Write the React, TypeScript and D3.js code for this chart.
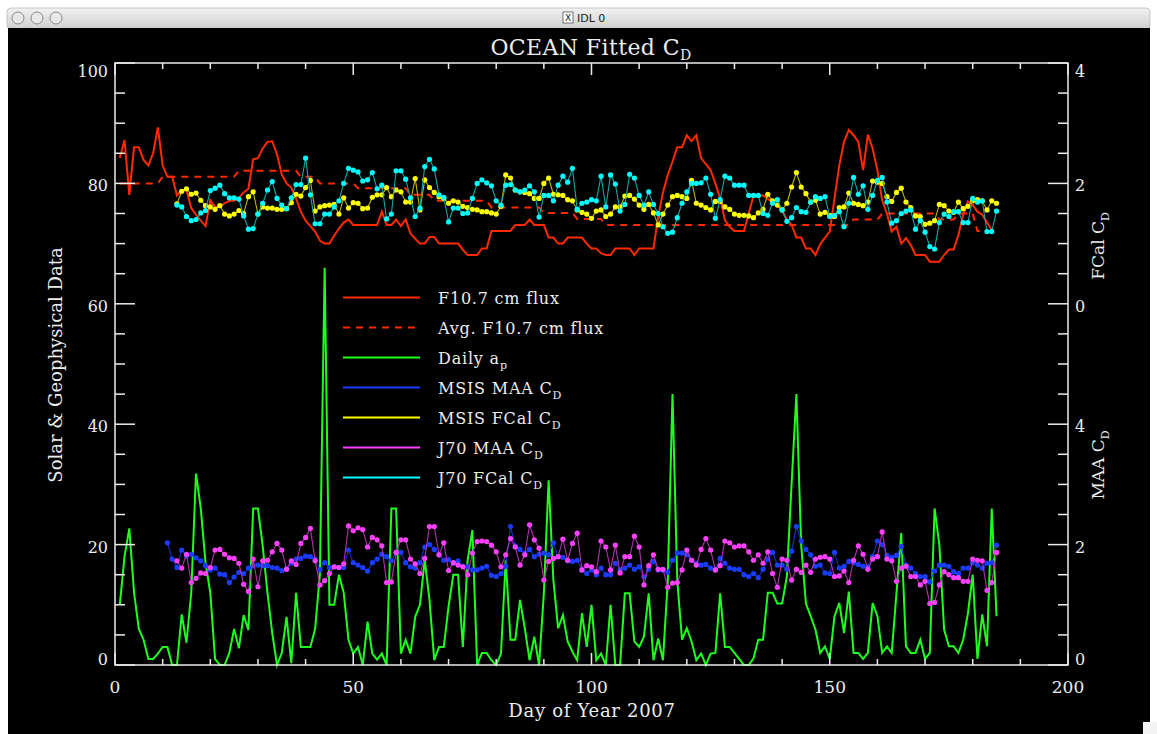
import React from 'react';
import * as d3 from 'd3';

// ---------- DATA ----------
const dayStartF107 = 1;
const f107Flux = [
  84.2,87.2,78.1,86,86,83.9,83,85,89.3,83,
  81.1,81.1,78,78.9,78.9,75.9,74.8,73.8,72.9,77.2,
  76.1,76.1,76.7,77.1,77.1,77.6,78.5,79.1,84,84.2,
  85.8,86.9,87,84.8,81.5,80,79.3,77.5,75.3,73.8,
  72.9,72,70.5,70,70,71.3,72.5,73.5,74,73.1,
  73.1,73.1,73.1,73.1,73.1,75.3,73.1,73.1,74,72.9,
  74,71.7,70.8,70,70,71.1,71.1,70,70,70,
  70,70,69,68.1,68.1,68.1,69.2,69.2,72.1,72.1,
  72.1,72.1,72.1,73.1,73.1,73.1,74,73.1,73.1,73.1,
  71,71,70,70,71,71,71,71,70,69.2,
  69.2,68.4,68.1,68.1,69.2,69.2,69.2,69.2,68.1,69.2,
  69.2,69.2,69.2,74.5,78.5,81.4,83.6,86,86,88,
  87,88,84.2,83.2,82.2,80,77.5,73.9,72.8,72.1,
  72.1,72.1,75,78,78,78,77.5,76.7,76.4,75.5,
  74,73.1,71,71,69.2,69.2,68.1,69.9,71,72,
  77.5,83,86.9,88.9,88,86.9,82.2,88.1,85.8,82.2,
  77.2,75,72,72.8,70,70.9,69.8,68.1,68.1,68.1,
  67,67,67,68.1,69,69,71.4,74.8,77,76.4,
  75.3,74.8,73.5,72.3
];

const dayStartAvg = 1;
const avgF107Flux = [
  80,80,80,80,80,80,80,80,80,
  81.1,81.1,81.1,81.1,81.1,81.1,81.1,81.1,81.1,81.1,81.1,81.1,81.1,81.1,81.1,81.1,
  82.1,82.1,82.1,82.1,82.1,82.1,82.1,82.1,82.1,82.1,82.1,82.1,82.1,
  81.1,81.1,81.1,81.1,
  80,80,80,80,80,80,80,80,
  79.2,79.2,79.2,79.2,79.2,79.2,79.2,79.2,79.2,79.2,79.2,
  78.1,78.1,78.1,78.1,78.1,
  77.1,77.1,77.1,77.1,77.1,77.1,77.1,77.1,77.1,77.1,77.1,77.1,
  76,76,76,76,76,76,76,76,76,76,76,
  75.1,75.1,75.1,75.1,75.1,75.1,75.1,
  74.1,74.1,74.1,74.1,74.1,74.1,
  73.1,73.1,73.1,73.1,73.1,73.1,73.1,73.1,73.1,73.1,
  73.1,73.1,73.1,73.1,73.1,73.1,73.1,73.1,73.1,73.1,
  73.1,73.1,73.1,73.1,73.1,73.1,73.1,73.1,73.1,73.1,
  73.1,73.1,73.1,73.1,73.1,73.1,73.1,73.1,73.1,73.1,
  73.1,73.1,73.1,73.1,73.1,73.1,73.1,73.1,73.1,73.1,73.1,73.1,
  74,74,74,74,74,74,
  75,75,75,75,75,75,75,75,75,75,75,75,
  74,74,74,74,
  75,75,75,75,
  72.1,72.1,72.1,72.1,72.1
];

const dayStartAp = 1;
const dailyAp = [
  10,18,22.7,12,6,4.2,1,1,1.9,3,
  3,0,0,8.4,3.7,12,31.8,26,17,12,
  1,0,0,2,6,2.8,8.3,5.8,26,26,
  19.7,12,5.3,0,2,8,0.3,12,3,3,
  3,6,15,66,10,10,15,12,4.2,1.9,
  3,0,7.2,1.9,0.9,1.9,0,26,26,1.9,
  4.2,1.9,8,10,17.5,10.8,0.8,3,3,9.7,
  15,15,3,17.4,22.4,0,2,2,0.8,0,
  1.9,17.4,4.2,4.2,10.8,6.1,0.8,4.7,0,11.9,
  30.7,14.1,6.1,8.3,3.9,2.2,0.8,8.6,3,10,
  0.8,1.9,0,10,0,0,11.9,11.9,3.9,3,
  4.7,11.9,0.8,4.4,0.8,13.8,45,14,4.2,6.1,
  3.9,0.8,1.9,0,1.9,2,11.9,3,3,2,
  1,0,0,1.1,4.2,4.2,12,12,10.2,10.2,
  14.7,30.2,45,20,10.2,8.1,5.9,2,3.1,1,
  8.1,10.3,5.3,12.2,2,2,1,2,10.3,8.1,
  2,3.1,2,11.9,21.9,3.1,2,2,4.2,1,
  2,26,20,5.9,3.1,3.1,2,4.2,8.6,15,
  1,8.4,3.1,26,8.1
];

const dayStartMsisMaa = 11;
const msisMaaCd = [
  2.03,1.76,1.62,1.91,1.81,1.84,1.78,1.73,1.65,1.58,
  1.61,1.51,1.50,1.37,1.46,1.54,1.52,1.61,1.65,1.66,
  1.65,1.65,1.62,1.61,1.57,1.60,1.69,1.76,1.77,1.81,
  1.80,1.76,1.58,1.70,1.62,1.63,1.62,1.62,1.91,1.70,
  1.66,1.62,1.56,1.70,1.76,1.84,1.80,1.73,1.87,1.87,
  1.70,1.63,1.61,1.70,1.96,2.00,1.92,1.83,1.74,1.75,
  1.69,1.73,1.64,1.63,1.58,1.58,1.61,1.64,1.49,1.47,
  1.52,1.64,2.30,1.98,1.92,1.86,1.92,1.80,1.84,1.86,
  1.83,2.03,1.80,1.79,1.73,1.72,1.74,1.58,1.52,1.58,
  1.50,1.61,1.50,1.50,1.69,1.58,1.61,1.66,1.59,1.63,
  1.47,1.59,1.72,1.58,1.58,1.54,1.74,1.86,1.86,1.83,
  1.74,1.69,1.66,1.67,1.61,1.58,1.77,1.69,1.61,1.59,
  1.59,1.50,1.47,1.52,1.45,1.59,1.76,1.87,1.66,1.66,
  1.59,1.89,2.30,2.06,1.92,1.83,1.64,1.66,1.53,1.52,
  1.87,1.61,1.64,1.72,1.70,1.67,1.64,1.63,1.80,2.06,
  2.00,1.82,1.79,1.82,1.97,1.66,1.61,1.52,1.47,1.47,
  1.38,1.56,1.66,1.66,1.64,1.55,1.52,1.61,1.61,1.70,
  1.66,1.61,1.69,1.70,1.99
];

const dayStartMsisFcal = 13;
const msisFcalCd = [
  1.66,1.87,1.91,1.82,1.84,1.72,1.63,1.61,1.57,1.63,
  1.49,1.46,1.49,1.55,1.50,1.78,1.86,1.49,1.61,1.59,
  1.59,1.57,1.57,1.58,1.68,1.82,1.79,1.93,2.05,1.54,
  1.61,1.63,1.64,1.65,1.49,1.76,1.59,1.68,1.67,1.58,
  1.59,1.77,1.81,1.81,1.93,1.78,1.89,1.86,1.69,1.69,
  2.08,1.56,2.06,1.93,1.85,1.78,1.75,1.67,1.71,1.69,
  1.62,1.60,1.57,1.56,1.53,1.53,1.51,1.49,1.62,2.14,
  2.09,1.89,1.86,1.85,1.83,1.75,1.75,2.00,2.09,1.82,
  1.81,1.80,1.73,1.71,1.56,1.52,1.49,1.42,1.54,1.56,
  1.45,1.49,1.61,1.61,1.79,1.80,1.74,1.64,1.57,1.65,
  1.51,1.31,1.49,1.64,1.78,1.80,1.78,1.75,2.05,1.67,
  1.64,1.60,1.56,1.70,1.70,1.61,1.57,1.49,1.47,1.47,
  1.46,1.43,1.51,1.57,1.82,1.71,1.64,1.56,1.67,1.94,
  2.18,1.94,1.83,1.69,1.72,1.49,1.52,1.47,1.45,1.60,
  1.61,1.84,1.67,1.65,1.63,1.69,2.04,2.02,2.00,1.78,
  1.70,1.85,1.92,1.69,1.60,1.46,1.45,1.32,1.34,1.38,
  1.65,1.63,1.54,1.52,1.69,1.58,1.62,1.71,1.73,1.71,
  1.56,1.71,1.67
];

const dayStartJ70Maa = 13;
const j70MaaCd = [
  1.73,1.61,1.84,1.37,1.44,1.53,1.52,1.62,1.91,1.92,
  1.84,1.78,1.77,1.69,1.34,1.22,1.76,1.30,1.73,1.74,
  1.88,2.02,1.91,1.59,1.73,1.67,2.02,2.12,2.27,1.73,
  1.33,1.40,1.52,1.63,1.62,1.68,2.31,2.23,2.28,2.25,
  1.96,2.12,2.08,1.98,1.37,1.38,1.87,2.08,2.08,1.76,
  1.68,1.52,1.77,2.30,2.30,1.83,2.03,1.57,1.70,1.66,
  1.63,1.50,1.86,2.05,2.06,2.05,1.99,1.88,1.63,1.83,
  2.10,1.96,1.66,1.83,2.33,2.08,1.94,1.41,1.72,1.77,
  1.80,2.09,1.74,2.02,2.19,1.58,1.65,1.63,1.55,2.06,
  1.96,1.58,1.99,1.53,1.80,1.80,2.14,1.96,1.33,1.65,
  1.83,1.59,1.59,1.29,1.36,1.37,1.58,1.91,1.74,1.66,
  1.92,2.10,1.91,1.58,1.65,2.06,2.03,1.96,1.98,1.98,
  1.88,1.74,1.83,1.69,1.88,1.52,1.29,1.76,1.74,1.41,
  1.59,1.54,1.66,1.54,1.76,1.79,1.80,1.76,1.47,1.48,
  1.56,1.37,1.74,1.98,1.84,1.59,1.76,1.80,2.21,1.76,
  1.73,1.39,1.61,1.64,1.47,1.47,1.33,1.39,1.02,1.04,
  1.33,1.55,1.50,1.45,1.45,1.39,1.39,1.76,1.74,1.73,
  1.24,1.37,1.87
];

const dayStartJ70Fcal = 13;
const j70FcalCd = [
  1.64,1.61,1.45,1.38,1.40,1.51,1.55,1.88,1.92,1.97,
  1.83,1.76,1.76,1.74,1.46,1.24,1.25,1.49,1.67,1.89,
  2.03,1.75,1.64,1.58,1.76,1.98,1.98,2.42,1.81,1.33,
  1.33,1.49,1.49,1.61,1.71,2.00,2.25,2.22,2.19,2.04,
  2.06,2.18,1.91,1.97,1.41,1.49,2.21,2.21,2.07,1.76,
  1.45,1.59,2.28,2.40,2.24,1.81,1.77,1.36,1.59,1.59,
  1.50,1.51,1.75,2.00,2.06,2.01,1.96,1.71,1.64,1.97,
  1.98,1.89,1.86,1.89,1.96,1.86,1.44,1.80,1.80,1.71,
  1.97,2.12,2.02,2.25,1.57,1.67,1.69,1.73,1.71,2.12,
  1.61,2.14,1.99,1.54,1.65,2.15,2.09,1.80,1.64,1.86,
  1.65,1.50,1.28,1.17,1.19,1.43,1.67,1.86,2.00,2.00,
  2.01,2.09,1.82,1.42,1.73,2.12,2.09,1.97,1.97,1.97,
  1.80,1.80,1.80,1.50,1.47,1.67,1.73,1.56,1.37,1.43,
  1.60,1.53,1.52,1.69,1.78,1.75,1.78,1.45,1.47,1.53,
  1.28,1.67,2.10,1.82,1.96,1.57,1.80,2.05,2.10,1.69,
  1.34,1.38,1.50,1.54,1.56,1.24,1.38,1.19,0.95,0.91,
  1.35,1.49,1.45,1.53,1.53,1.35,1.35,1.75,1.69,1.71,
  1.20,1.20,1.54
];

const xTickValues = [0, 50, 100, 150, 200];
const yTickValues = [0, 20, 40, 60, 80, 100];
const fcalTickValues = [0, 2, 4];
const maaTickValues = [0, 2, 4];

// ---------- LAYOUT ----------
const W = 1157;
const H = 734;
const PL = 115, PR = 1068, PT = 63, PB = 665;
const FG = '#ececec';
const FONT = '"DejaVu Serif", serif';

type Pt = [number, number];
const toPts = (start: number, arr: number[]): Pt[] => arr.map((v, i) => [start + i, v]);

export default function App() {
  const x = d3.scaleLinear().domain([0, 200]).range([PL, PR]);
  const y = d3.scaleLinear().domain([0, 100]).range([PB, PT]);
  const yF = d3.scaleLinear().domain([0, 4]).range([y(60), y(100)]);
  const yM = d3.scaleLinear().domain([0, 4]).range([y(0), y(40)]);

  const mk = (ys: d3.ScaleLinear<number, number>) =>
    d3.line<Pt>().x(d => x(d[0])).y(d => ys(d[1]));

  const f107Pts = toPts(dayStartF107, f107Flux);
  const avgPts = toPts(dayStartAvg, avgF107Flux);
  const apPts = toPts(dayStartAp, dailyAp);
  const msisMaaPts = toPts(dayStartMsisMaa, msisMaaCd);
  const msisFcalPts = toPts(dayStartMsisFcal, msisFcalCd);
  const j70MaaPts = toPts(dayStartJ70Maa, j70MaaCd);
  const j70FcalPts = toPts(dayStartJ70Fcal, j70FcalCd);

  const dotted = (pts: Pt[], ys: d3.ScaleLinear<number, number>, lineCol: string, dotCol: string, key: string) => (
    <g key={key}>
      <path d={mk(ys)(pts) || ''} fill="none" stroke={lineCol} strokeWidth={1.1} />
      {pts.map((p, i) => (
        <circle key={i} cx={x(p[0])} cy={ys(p[1])} r={2.6} fill={dotCol} />
      ))}
    </g>
  );

  const yLabelBase = (py: number) => (Math.abs(py - PT) < 1 ? PT + 14 : Math.abs(py - PB) < 1 ? PB : py + 8);

  const legend = [
    { label: 'F10.7 cm flux', sub: '', col: '#ff2a00', dash: '' },
    { label: 'Avg. F10.7 cm flux', sub: '', col: '#ff2a00', dash: '7,6' },
    { label: 'Daily a', sub: 'p', col: '#1eff1e', dash: '' },
    { label: 'MSIS MAA C', sub: 'D', col: '#1a3cff', dash: '' },
    { label: 'MSIS FCal C', sub: 'D', col: '#ffff00', dash: '' },
    { label: 'J70 MAA C', sub: 'D', col: '#ff40ff', dash: '' },
    { label: 'J70 FCal C', sub: 'D', col: '#00ffff', dash: '' },
  ];

  const xMinor = d3.range(0, 201, 10);
  const yMinor = d3.range(0, 101, 5);
  const maaMinor = d3.range(0, 5.6, 0.5);
  const fcalMinor = d3.range(0, 4.01, 0.5);

  return (
    <svg width={W} height={H} style={{ position: 'absolute', left: 0, top: 0, display: 'block' }}
      xmlns="http://www.w3.org/2000/svg">
      <defs>
        <linearGradient id="tb" x1="0" y1="0" x2="0" y2="1">
          <stop offset="0" stopColor="#f2f2f2" />
          <stop offset="1" stopColor="#cfcfcf" />
        </linearGradient>
      </defs>
      <rect x={0} y={0} width={W} height={H} fill="#ffffff" />
      {/* window chrome */}
      <rect x={7} y={8} width={1143} height={21} rx={4} fill="url(#tb)" stroke="#a8a8a8" strokeWidth={0.6} />
      {[18, 37, 56].map(cx => (
        <circle key={cx} cx={cx} cy={18} r={6} fill="#e8e8e8" stroke="#8a8a8a" strokeWidth={1} />
      ))}
      <rect x={563} y={12} width={10} height={11} fill="#ffffff" stroke="#555" strokeWidth={0.8} />
      <text x={568} y={21} fontSize={9} textAnchor="middle" fontFamily="DejaVu Sans" fill="#222">X</text>
      <text x={577} y={22} fontSize={11} fontFamily="DejaVu Sans" fill="#222">IDL 0</text>
      <rect x={8} y={28} width={1142} height={H - 28} fill="#000000" />

      {/* title */}
      <text x={591} y={55} fill={FG} fontFamily={FONT} fontSize={22} textAnchor="middle" letterSpacing={0.4}>
        OCEAN Fitted C<tspan fontSize={14} dy={5}>D</tspan>
      </text>

      {/* data */}
      <path d={mk(y)(f107Pts) || ''} fill="none" stroke="#ff2a00" strokeWidth={2} />
      <path d={mk(y)(avgPts) || ''} fill="none" stroke="#ff2a00" strokeWidth={2} strokeDasharray="7,6" />
      <path d={mk(y)(apPts) || ''} fill="none" stroke="#1eff1e" strokeWidth={2} />
      {dotted(msisMaaPts, yM, '#1430c8', '#1a3cff', 'mm')}
      {dotted(msisFcalPts, yF, '#b8b800', '#ffff00', 'mf')}
      {dotted(j70MaaPts, yM, '#b030b0', '#ff40ff', 'jm')}
      {dotted(j70FcalPts, yF, '#10a8a8', '#00ffff', 'jf')}

      {/* axes box */}
      <rect x={PL} y={PT} width={PR - PL} height={PB - PT} fill="none" stroke={FG} strokeWidth={1.5} />
      {/* x ticks */}
      {xMinor.map(v => {
        const major = xTickValues.includes(v);
        const len = major ? 12 : 6;
        return (
          <g key={'xt' + v}>
            <line x1={x(v)} x2={x(v)} y1={PB} y2={PB - len} stroke={FG} strokeWidth={1.5} />
            <line x1={x(v)} x2={x(v)} y1={PT} y2={PT + len} stroke={FG} strokeWidth={1.5} />
          </g>
        );
      })}
      {xTickValues.map(v => (
        <text key={'xl' + v} x={x(v)} y={693} fill={FG} fontFamily={FONT} fontSize={17} textAnchor="middle">{v}</text>
      ))}
      {/* left ticks */}
      {yMinor.map(v => {
        const major = yTickValues.includes(v);
        const len = major ? 20 : 10;
        return <line key={'yt' + v} x1={PL} x2={PL + len} y1={y(v)} y2={y(v)} stroke={FG} strokeWidth={1.5} />;
      })}
      {yTickValues.map(v => (
        <text key={'yl' + v} x={108} y={yLabelBase(y(v))} fill={FG} fontFamily={FONT} fontSize={16} textAnchor="end">{v}</text>
      ))}
      {/* right ticks */}
      {maaMinor.map(v => {
        const major = maaTickValues.includes(v);
        const len = major ? 20 : 10;
        return <line key={'mt' + v} x1={PR} x2={PR - len} y1={yM(v)} y2={yM(v)} stroke={FG} strokeWidth={1.5} />;
      })}
      {fcalMinor.map(v => {
        const major = fcalTickValues.includes(v);
        const len = major ? 20 : 10;
        return <line key={'ft' + v} x1={PR} x2={PR - len} y1={yF(v)} y2={yF(v)} stroke={FG} strokeWidth={1.5} />;
      })}
      {maaTickValues.map(v => (
        <text key={'ml' + v} x={1075} y={yLabelBase(yM(v))} fill={FG} fontFamily={FONT} fontSize={16}>{v}</text>
      ))}
      {fcalTickValues.map(v => (
        <text key={'fl' + v} x={1075} y={yLabelBase(yF(v))} fill={FG} fontFamily={FONT} fontSize={16}>{v}</text>
      ))}

      {/* axis titles */}
      <text x={592} y={717} fill={FG} fontFamily={FONT} fontSize={18} textAnchor="middle" letterSpacing={0.7}>Day of Year 2007</text>
      <text transform="translate(62,365) rotate(-90)" fill={FG} fontFamily={FONT} fontSize={18} textAnchor="middle">Solar &amp; Geophysical Data</text>
      <text transform="translate(1104,246) rotate(-90)" fill={FG} fontFamily={FONT} fontSize={17} textAnchor="middle">
        FCal C<tspan fontSize={11} dy={5}>D</tspan>
      </text>
      <text transform="translate(1104,465) rotate(-90)" fill={FG} fontFamily={FONT} fontSize={17} textAnchor="middle">
        MAA C<tspan fontSize={11} dy={5}>D</tspan>
      </text>

      {/* legend */}
      {legend.map((e, i) => {
        const ly = 297.5 + i * 30;
        return (
          <g key={'lg' + i}>
            <line x1={343} x2={420} y1={ly} y2={ly} stroke={e.col} strokeWidth={2} strokeDasharray={e.dash || undefined} />
            <text x={438} y={ly + 6} fill={FG} fontFamily={FONT} fontSize={16} letterSpacing={0.8}>
              {e.label}
              {e.sub ? <tspan fontSize={11} dy={5}>{e.sub}</tspan> : null}
            </text>
          </g>
        );
      })}
      {/* resize grip */}
      <rect x={1143} y={722} width={14} height={12} fill="#f4f4f4" />
    </svg>
  );
}
